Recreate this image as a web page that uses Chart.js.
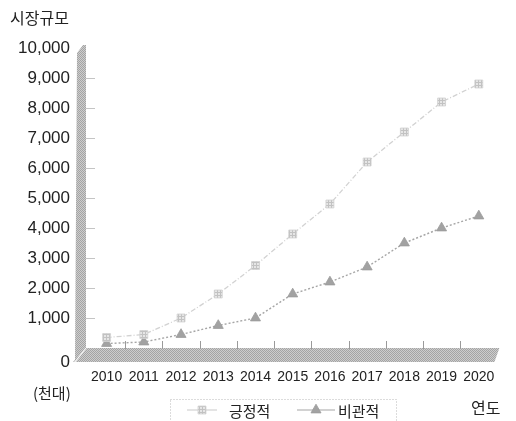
<!DOCTYPE html>
<html>
<head>
<meta charset="utf-8">
<script src="https://cdn.jsdelivr.net/npm/chart.js@4.4.1/dist/chart.umd.min.js"></script>
<style>
  html, body { margin: 0; padding: 0; background: #fff; }
  #wrap { width: 516px; height: 421px; position: relative; }
</style>
</head>
<body>
<div id="wrap"><canvas id="c" width="516" height="421"></canvas></div>
<script>
// Market size forecast (unit: thousand vehicles)
const years = ['2010', '2011', '2012', '2013', '2014', '2015', '2016', '2017', '2018', '2019', '2020'];
const optimistic = [350, 450, 1000, 1800, 2750, 3800, 4800, 6200, 7200, 8200, 8800];
const pessimistic = [150, 200, 450, 750, 1000, 1800, 2200, 2700, 3500, 4000, 4400];
const seriesNames = ['긍정적', '비관적'];
const yMax = 10000;
const yStep = 1000;

const LATIN = '"Liberation Sans", Arial, sans-serif';
const KOREAN = '"Noto Sans CJK KR", "Noto Sans", sans-serif';
const TEXT = '#222';

const canvas = document.getElementById('c');
const ctx0 = canvas.getContext('2d');

// dotted grey texture for the wall and floor
function stipple(a, b) {
  const p = document.createElement('canvas');
  p.width = 2; p.height = 2;
  const g = p.getContext('2d');
  g.fillStyle = a; g.fillRect(0, 0, 2, 2);
  g.fillStyle = b; g.fillRect(0, 0, 1, 1); g.fillRect(1, 1, 1, 1);
  return ctx0.createPattern(p, 'repeat');
}
// light grid texture for the square markers
function gridFill() {
  const p = document.createElement('canvas');
  p.width = 3; p.height = 3;
  const g = p.getContext('2d');
  g.fillStyle = '#e6e6e6'; g.fillRect(0, 0, 3, 3);
  g.fillStyle = '#c2c2c2'; g.fillRect(0, 1, 3, 1); g.fillRect(1, 0, 1, 3);
  return ctx0.createPattern(p, 'repeat');
}
const frameFill = stipple('#cdcdcd', '#a4a4a4');
const squareFill = gridFill();

const WALL = 10;   // thickness of the left wall
const DEPTH = 14;  // depth of the floor band

const frame3d = {
  id: 'frame3d',
  beforeDatasetsDraw(chart) {
    const { ctx, chartArea: a, scales } = chart;
    const L = a.left - 2, R = a.right, T = a.top, B = a.bottom;
    ctx.save();
    // left wall
    ctx.fillStyle = frameFill;
    ctx.beginPath();
    ctx.moveTo(L - WALL + 1, T + 5);
    ctx.lineTo(L - 3, T - 3);
    ctx.lineTo(L, T - 3);
    ctx.lineTo(L, B);
    ctx.lineTo(L - WALL - 1, B + DEPTH);
    ctx.closePath();
    ctx.fill();
    // floor
    ctx.beginPath();
    ctx.moveTo(L, B);
    ctx.lineTo(R + 2, B);
    ctx.lineTo(R - 3, B + DEPTH);
    ctx.lineTo(L - WALL - 3, B + DEPTH);
    ctx.closePath();
    ctx.fill();
    // edge where wall meets floor
    ctx.strokeStyle = 'rgba(255,255,255,0.9)';
    ctx.lineWidth = 1.2;
    ctx.beginPath();
    ctx.moveTo(L - WALL - 1, B + DEPTH);
    ctx.lineTo(L, B);
    ctx.stroke();
    // short grid marks on the wall
    ctx.strokeStyle = '#c4c4c4';
    ctx.lineWidth = 1;
    const ys = scales.y;
    for (let v = yStep; v < yMax; v += yStep) {
      const y = Math.round(ys.getPixelForValue(v)) + 0.5;
      ctx.beginPath();
      ctx.moveTo(L, y);
      ctx.lineTo(L + 9, y);
      ctx.stroke();
    }
    // category separators on the floor
    const xs = scales.x;
    ctx.strokeStyle = '#9a9a9a';
    for (let i = 0; i < years.length - 1; i++) {
      const x = Math.round((xs.getPixelForValue(i) + xs.getPixelForValue(i + 1)) / 2) + 0.5;
      ctx.beginPath();
      ctx.moveTo(x, B - 7);
      ctx.lineTo(x, B + 1);
      ctx.stroke();
    }
    ctx.restore();
  },
  afterDraw(chart) {
    const { ctx, chartArea: a } = chart;
    ctx.save();
    ctx.fillStyle = TEXT;
    ctx.textBaseline = 'middle';
    // axis titles
    ctx.font = '16px ' + KOREAN;
    ctx.textAlign = 'left';
    ctx.fillText('시장규모', 10, 18);
    ctx.fillText('연도', 471, 408);
    ctx.font = '15px ' + KOREAN;
    ctx.fillText('(천대)', 33, 393);
    // zero label sits at the front edge of the floor
    ctx.font = '17px ' + LATIN;
    ctx.textAlign = 'right';
    ctx.fillText('0', 70, a.bottom + 14);

    // legend
    const lx = 170.5, ly = 399.5, lw = 226, lh = 30;
    ctx.strokeStyle = '#b8b8b8';
    ctx.lineWidth = 1;
    ctx.setLineDash([1, 2]);
    ctx.strokeRect(lx, ly, lw, lh);
    const ds = chart.data.datasets;
    const entries = [
      { x0: 187, x1: 217, tx: 229 },
      { x0: 297, x1: 335, tx: 338 }
    ];
    const cy = 410;
    entries.forEach((e, i) => {
      const d = ds[i];
      ctx.strokeStyle = d.borderColor;
      ctx.lineWidth = 1.2;
      ctx.setLineDash([]);
      ctx.beginPath();
      ctx.moveTo(e.x0, cy);
      ctx.lineTo(e.x1, cy);
      ctx.stroke();
      ctx.fillStyle = d.pointBackgroundColor;
      ctx.strokeStyle = d.pointBorderColor;
      ctx.lineWidth = d.pointBorderWidth;
      Chart.helpers.drawPoint(ctx, {
        pointStyle: d.pointStyle,
        radius: d.pointRadius,
        rotation: 0,
        borderWidth: d.pointBorderWidth
      }, (e.x0 + e.x1) / 2, cy);
      ctx.fillStyle = TEXT;
      ctx.textAlign = 'left';
      ctx.font = '15px ' + KOREAN;
      ctx.fillText(seriesNames[i], e.tx, cy + 1);
    });
    ctx.restore();
  }
};

new Chart(canvas, {
  type: 'line',
  data: {
    labels: years,
    datasets: [
      {
        label: seriesNames[0],
        data: optimistic,
        borderColor: '#d2d2d2',
        borderWidth: 1.3,
        borderDash: [5, 2, 1, 2],
        pointStyle: 'rect',
        pointRadius: 5.6,
        pointBackgroundColor: squareFill,
        pointBorderColor: '#d0d0d0',
        pointBorderWidth: 0.8,
        tension: 0
      },
      {
        label: seriesNames[1],
        data: pessimistic,
        borderColor: '#a6a6a6',
        borderWidth: 1.4,
        borderDash: [2, 2],
        pointStyle: 'triangle',
        pointRadius: 5.8,
        pointBackgroundColor: '#a2a2a2',
        pointBorderColor: '#9a9a9a',
        pointBorderWidth: 0.8,
        tension: 0
      }
    ]
  },
  options: {
    responsive: false,
    animation: false,
    layout: { padding: { top: 48, right: 14, bottom: 0, left: 0 } },
    plugins: {
      legend: { display: false },
      tooltip: { enabled: false },
      title: { display: false }
    },
    scales: {
      x: {
        offset: true,
        grid: { display: false, drawTicks: false },
        border: { display: false },
        ticks: {
          color: TEXT,
          font: { family: LATIN, size: 14 },
          padding: 21,
          maxRotation: 0,
          autoSkip: false
        },
        afterFit(s) { s.height = 421 - 348; }
      },
      y: {
        min: 0,
        max: yMax,
        grid: { display: false, drawTicks: false },
        border: { display: false },
        ticks: {
          stepSize: yStep,
          color: TEXT,
          font: { family: LATIN, size: 17 },
          padding: 18,
          callback: (v) => (v === 0 ? '' : v.toLocaleString('en-US'))
        },
        afterFit(s) { s.width = 88; }
      }
    }
  },
  plugins: [frame3d]
});
</script>
</body>
</html>
